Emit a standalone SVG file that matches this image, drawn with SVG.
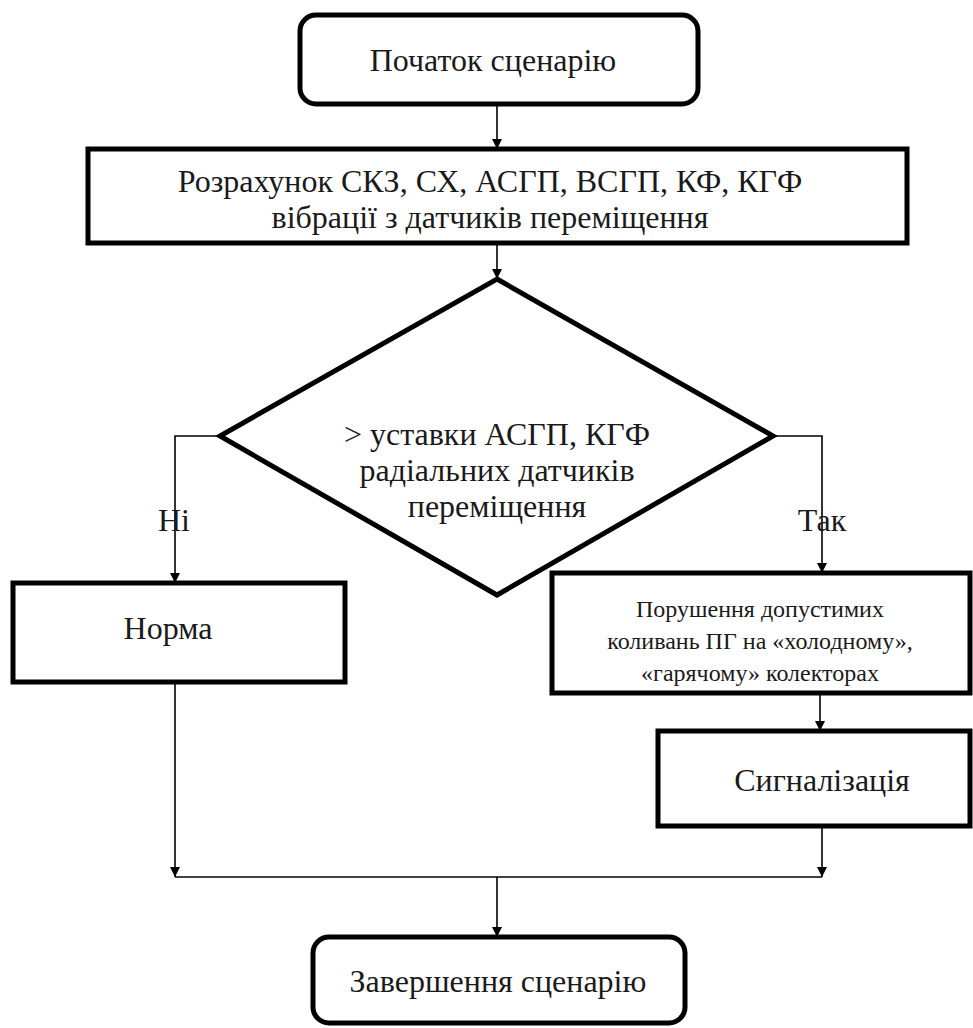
<svg xmlns="http://www.w3.org/2000/svg" width="973" height="1028" viewBox="0 0 973 1028">
<defs>
<marker id="arr" viewBox="0 0 10 10" refX="10" refY="5" markerWidth="10" markerHeight="10" markerUnits="userSpaceOnUse" orient="auto"><path d="M0,0 L10,5 L0,10 z" fill="#000"/></marker>
<style>
.box{fill:#fff;stroke:#000;stroke-width:5}
.ln{fill:none;stroke:#000;stroke-width:1.6}
.t{font-family:"Liberation Serif","Times New Roman",serif;fill:#1a1a1a;text-anchor:middle}
.big{font-size:32px}
.sm{font-size:24px}
</style>
</defs>
<rect width="973" height="1028" fill="#fff"/>
<g id="connectors">
<line class="ln" x1="497" y1="104" x2="497" y2="149" marker-end="url(#arr)"/>
<line class="ln" x1="497" y1="243" x2="497" y2="279" marker-end="url(#arr)"/>
<polyline class="ln" points="220,436 175,436 175,583" marker-end="url(#arr)"/>
<polyline class="ln" points="773,436 822,436 822,573" marker-end="url(#arr)"/>
<line class="ln" x1="820" y1="693" x2="820" y2="731" marker-end="url(#arr)"/>
<line class="ln" x1="175" y1="682" x2="175" y2="877" marker-end="url(#arr)"/>
<line class="ln" x1="822" y1="826" x2="822" y2="877" marker-end="url(#arr)"/>
<line class="ln" x1="175" y1="877" x2="822" y2="877"/>
<line class="ln" x1="497" y1="877" x2="497" y2="937" marker-end="url(#arr)"/>
<text class="t big" x="174" y="531">Ні</text>
<text class="t big" x="822" y="531">Так</text>
</g>
<g id="start">
<rect class="box" x="300" y="15" width="398" height="89" rx="16"/>
<text class="t big" x="493" y="71">Початок сценарію</text>
</g>
<g id="calc">
<rect class="box" x="88" y="149" width="819" height="94"/>
<text class="t big" x="490" y="192">Розрахунок СКЗ, СХ, АСГП, ВСГП, КФ, КГФ</text>
<text class="t big" x="490" y="228">вібрації з датчиків переміщення</text>
</g>
<g id="decision">
<polygon class="box" points="497,279 773,436 497,595 220,436"/>
<text class="t big" x="497" y="445">&gt; уставки АСГП, КГФ</text>
<text class="t big" x="497" y="481">радіальних датчиків</text>
<text class="t big" x="497" y="517">переміщення</text>
</g>
<g id="norma">
<rect class="box" x="13" y="583" width="332" height="99"/>
<text class="t big" x="168" y="639">Норма</text>
</g>
<g id="violation">
<rect class="box" x="552" y="573" width="418" height="120"/>
<text class="t sm" x="760" y="617">Порушення допустимих</text>
<text class="t sm" x="760" y="649">коливань ПГ на «холодному»,</text>
<text class="t sm" x="760" y="681">«гарячому» колекторах</text>
</g>
<g id="signal">
<rect class="box" x="658" y="731" width="312" height="95"/>
<text class="t big" x="822" y="791">Сигналізація</text>
</g>
<g id="end">
<rect class="box" x="313" y="937" width="372" height="86" rx="16"/>
<text class="t big" x="498" y="992">Завершення сценарію</text>
</g>
</svg>
